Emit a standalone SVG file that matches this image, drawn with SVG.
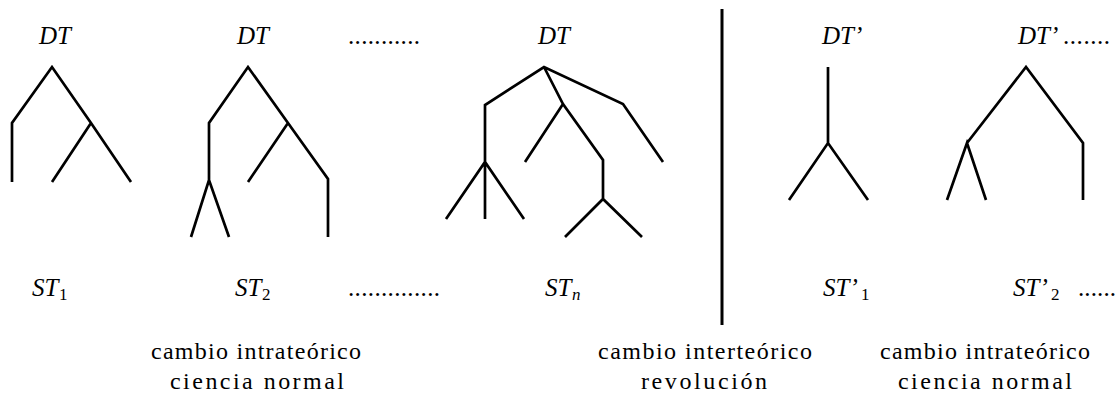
<svg xmlns="http://www.w3.org/2000/svg" width="1118" height="394" viewBox="0 0 1118 394">
<rect width="1118" height="394" fill="#fff"/>
<g id="connectors" fill="none" stroke="#000" stroke-width="2.7" stroke-linecap="butt" stroke-linejoin="miter">
  <path id="tree-1" d="M12,182 L12,123 L52,67 L91,123 L131,182 M91,123 L52,182"/>
  <path id="tree-2" d="M209,180 L209,123 L248,67 L288,123 L328,179 L328,237 M288,123 L248,182 M191,237 L209,180 L229,237"/>
  <path id="tree-n" d="M485,162 L485,105 L544,67 L623,104 L663,162 M544,67 L563,104 L603,160 L603,199 M563,104 L525,162 M446,219 L485,162 L524,219 M485,162 L485,219 M565,237 L603,199 L642,237"/>
  <path id="tree-p1" d="M828,67 L828,143 M789,200 L828,143 L868,200"/>
  <path id="tree-p2" d="M947,200 L967,143 L986,200 M967,143 L1026,67 L1083,143 L1083,200"/>
  <line id="divider" x1="722" y1="9" x2="722" y2="325" stroke-width="3"/>
</g>
<g id="node-1">
  <text x="39" y="44" font-family="Liberation Serif" font-size="25" font-style="italic">DT</text>
  <text x="32" y="296" font-family="Liberation Serif" font-size="25" font-style="italic">ST</text>
  <text x="59" y="300" font-family="Liberation Serif" font-size="17">1</text>
</g>
<g id="node-2">
  <text x="237" y="44" font-family="Liberation Serif" font-size="25" font-style="italic">DT</text>
  <text x="235" y="296" font-family="Liberation Serif" font-size="25" font-style="italic">ST</text>
  <text x="262" y="300" font-family="Liberation Serif" font-size="17">2</text>
</g>
<g id="ellipsis">
  <text x="348" y="44" font-family="Liberation Serif" font-size="25" textLength="72" lengthAdjust="spacing">...........</text>
  <text x="348" y="296" font-family="Liberation Serif" font-size="25" textLength="92" lengthAdjust="spacing">..............</text>
</g>
<g id="node-n">
  <text x="538" y="44" font-family="Liberation Serif" font-size="25" font-style="italic">DT</text>
  <text x="545" y="296" font-family="Liberation Serif" font-size="25" font-style="italic">ST</text>
  <text x="572" y="300" font-family="Liberation Serif" font-size="17" font-style="italic">n</text>
</g>
<g id="node-p1">
  <text x="822" y="44" font-family="Liberation Serif" font-size="25" font-style="italic">DT’</text>
  <text x="823" y="296" font-family="Liberation Serif" font-size="25" font-style="italic">ST’</text>
  <text x="861" y="300" font-family="Liberation Serif" font-size="17">1</text>
</g>
<g id="node-p2">
  <text x="1018" y="44" font-family="Liberation Serif" font-size="25" font-style="italic">DT’</text>
  <text x="1063" y="44" font-family="Liberation Serif" font-size="25" textLength="47" lengthAdjust="spacing">.......</text>
  <text x="1013" y="296" font-family="Liberation Serif" font-size="25" font-style="italic">ST’</text>
  <text x="1051" y="300" font-family="Liberation Serif" font-size="17">2</text>
  <text x="1078" y="296" font-family="Liberation Serif" font-size="25" textLength="38" lengthAdjust="spacing">......</text>
</g>
<g id="captions">
  <text x="256" y="359" font-family="Liberation Serif" font-size="24" text-anchor="middle" textLength="210" lengthAdjust="spacing">cambio intrateórico</text>
  <text x="257" y="389" font-family="Liberation Serif" font-size="24" text-anchor="middle" textLength="174" lengthAdjust="spacing">ciencia  normal</text>
  <text x="705" y="359" font-family="Liberation Serif" font-size="24" text-anchor="middle" textLength="214" lengthAdjust="spacing">cambio interteórico</text>
  <text x="704" y="389" font-family="Liberation Serif" font-size="24" text-anchor="middle" textLength="126" lengthAdjust="spacing">revolución</text>
  <text x="985" y="359" font-family="Liberation Serif" font-size="24" text-anchor="middle" textLength="210" lengthAdjust="spacing">cambio intrateórico</text>
  <text x="985" y="389" font-family="Liberation Serif" font-size="24" text-anchor="middle" textLength="174" lengthAdjust="spacing">ciencia  normal</text>
</g>
</svg>
